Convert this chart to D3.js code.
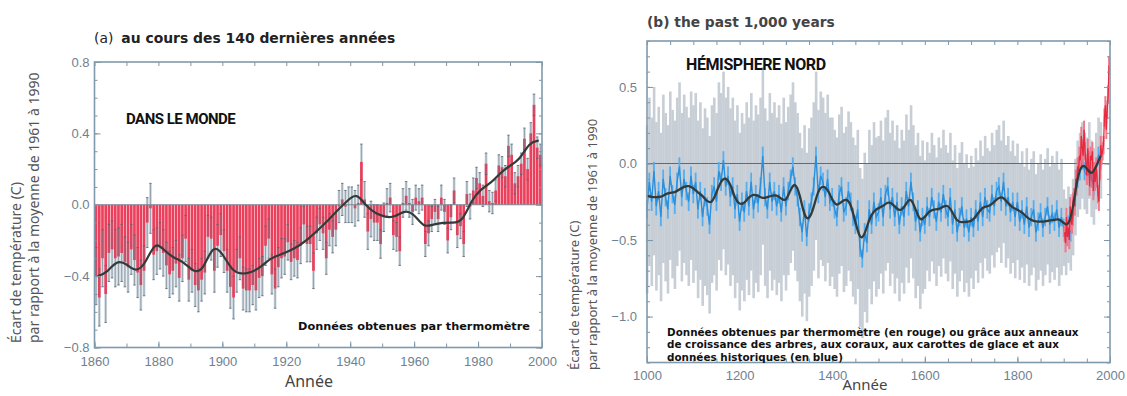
<!DOCTYPE html>
<html>
<head>
<meta charset="utf-8">
<script src="https://cdn.jsdelivr.net/npm/d3@7"></script>
<style>
  body { margin: 0; background: #fff; }
  svg { display: block; }
  .tick text { font-family: "Liberation Sans", Arial, sans-serif; font-size: 13px; fill: #6f8190; }
  .tick line { stroke: #7d96a8; }
</style>
</head>
<body>
<script>
// ---------- panel (a) : global, 1861-2000 ----------
var yearsA = d3.range(1861, 2001);
var tempA = [
  -0.40,-0.52,-0.30,-0.50,-0.27,-0.25,-0.30,-0.29,-0.27,-0.32,
  -0.35,-0.25,-0.31,-0.38,-0.45,-0.37,-0.10,-0.02,-0.28,-0.26,
  -0.23,-0.27,-0.34,-0.39,-0.37,-0.33,-0.41,-0.30,-0.19,-0.42,
  -0.37,-0.45,-0.48,-0.42,-0.38,-0.18,-0.19,-0.37,-0.23,-0.17,
  -0.26,-0.37,-0.46,-0.52,-0.37,-0.30,-0.47,-0.48,-0.48,-0.45,
  -0.48,-0.41,-0.40,-0.23,-0.19,-0.39,-0.47,-0.35,-0.30,-0.29,
  -0.21,-0.32,-0.30,-0.31,-0.23,-0.11,-0.22,-0.22,-0.37,-0.16,
  -0.11,-0.16,-0.30,-0.14,-0.18,-0.14,-0.01, 0.03,-0.01, 0.00,
   0.00,-0.02, 0.01, 0.24, 0.03,-0.15,-0.08,-0.10,-0.10,-0.22,
  -0.07, 0.01, 0.04,-0.17,-0.18,-0.26, 0.01, 0.05, 0.01,-0.04,
   0.04, 0.02, 0.04,-0.22,-0.16,-0.08,-0.04,-0.08, 0.04,-0.04,
  -0.20,-0.07, 0.08,-0.17,-0.12,-0.22, 0.06,-0.01, 0.08, 0.15,
   0.12, 0.05, 0.23, 0.02, 0.01, 0.08, 0.22, 0.21, 0.16, 0.33,
   0.28, 0.12, 0.16, 0.23, 0.37, 0.20, 0.40, 0.56, 0.32, 0.28
];
// 95% range half-width, one value per decade (1860s .. 1990s)
var errA = [0.16, 0.14, 0.13, 0.12, 0.12, 0.11, 0.10, 0.09, 0.10, 0.08, 0.07, 0.07, 0.06, 0.06];
var smoothYearsA = [1861,1864,1867,1870,1873,1876,1879,1882,1885,1888,1891,1894,1897,1900,1903,1906,
  1909,1912,1915,1918,1921,1924,1927,1930,1933,1936,1939,1942,1945,1948,1951,1954,1957,1960,1963,1966,
  1969,1972,1975,1978,1981,1984,1987,1990,1993,1996,1999];
var smoothA = [-0.40,-0.38,-0.31,-0.33,-0.38,-0.33,-0.20,-0.26,-0.30,-0.32,-0.38,-0.37,-0.22,-0.27,
  -0.37,-0.39,-0.38,-0.35,-0.30,-0.28,-0.26,-0.23,-0.19,-0.14,-0.09,-0.03,0.02,0.07,-0.01,-0.05,
  -0.07,-0.07,-0.03,-0.05,-0.13,-0.11,-0.10,-0.10,-0.10,0.03,0.09,0.12,0.18,0.22,0.25,0.35,0.36];
var yTicksA = [-0.8, -0.4, 0, 0.4, 0.8];
var xTicksA = [1860, 1880, 1900, 1920, 1940, 1960, 1980, 2000];

// ---------- panel (b) : northern hemisphere, 1000-1998 ----------
var yearsB = d3.range(1000, 1981, 5);
var proxyB = [
  -0.30,-0.12,-0.25,-0.05,-0.28,-0.18,-0.35,-0.10,-0.22,-0.30,-0.08,-0.20,-0.27,-0.12,-0.02,-0.22,-0.10,-0.18,-0.25,-0.08,
  -0.20,-0.12,-0.30,-0.18,-0.35,-0.22,-0.28,-0.40,-0.20,-0.15,-0.25,-0.05,-0.12, 0.02,-0.15,-0.08,-0.22,-0.15,-0.30,-0.20,
  -0.38,-0.25,-0.32,-0.18,-0.28,-0.12,-0.30,-0.20,-0.26,-0.15, 0.05,-0.22,-0.30,-0.12,-0.25,-0.18,-0.28,-0.20,-0.32,-0.15,
  -0.28,-0.18,-0.10,-0.02,-0.15,-0.22,-0.35,-0.45,-0.30,-0.48,-0.32,-0.25,-0.15, 0.05,-0.20,-0.08,-0.12,-0.22,-0.10,-0.25,
  -0.22,-0.30,-0.35,-0.20,-0.15,-0.32,-0.28,-0.18,-0.25,-0.35,-0.40,-0.30,-0.55,-0.62,-0.45,-0.52,-0.30,-0.40,-0.25,-0.35,
  -0.32,-0.22,-0.35,-0.20,-0.15,-0.30,-0.22,-0.35,-0.25,-0.40,-0.28,-0.35,-0.18,-0.28,-0.12,-0.25,-0.38,-0.30,-0.45,-0.35,
  -0.40,-0.28,-0.35,-0.22,-0.30,-0.38,-0.25,-0.32,-0.20,-0.30,-0.35,-0.22,-0.40,-0.30,-0.45,-0.35,-0.28,-0.42,-0.36,-0.45,
  -0.35,-0.42,-0.30,-0.38,-0.25,-0.35,-0.22,-0.30,-0.32,-0.20,-0.28,-0.18,-0.15,-0.25,-0.12,-0.28,-0.22,-0.32,-0.25,-0.35,
  -0.25,-0.38,-0.30,-0.40,-0.28,-0.42,-0.35,-0.30,-0.45,-0.38,-0.32,-0.42,-0.35,-0.28,-0.40,-0.33,-0.38,-0.30,-0.42,-0.35,
  -0.42,-0.48,-0.40,-0.45,-0.35,-0.22,-0.10,-0.05, 0.02,-0.05,-0.08, 0.02,-0.10,-0.15,-0.05, 0.05, 0.02
];
// uncertainty half-width, one value per century (1000s .. 1900s)
var errB = [0.55, 0.58, 0.58, 0.55, 0.52, 0.50, 0.42, 0.40, 0.38, 0.25];
var smoothYearsB = d3.range(1000, 1981, 10);
var smoothB = [
  -0.21,-0.22,-0.22,-0.22,-0.20,-0.19,-0.19,-0.17,-0.15,-0.145,
  -0.16,-0.19,-0.21,-0.25,-0.26,-0.19,-0.11,-0.09,-0.13,-0.23,
  -0.27,-0.26,-0.22,-0.20,-0.21,-0.23,-0.22,-0.21,-0.205,-0.23,
  -0.25,-0.17,-0.12,-0.20,-0.35,-0.37,-0.29,-0.17,-0.145,-0.165,
  -0.24,-0.28,-0.25,-0.23,-0.26,-0.38,-0.50,-0.47,-0.36,-0.31,
  -0.29,-0.28,-0.25,-0.26,-0.30,-0.31,-0.26,-0.22,-0.30,-0.38,
  -0.35,-0.31,-0.30,-0.30,-0.28,-0.27,-0.32,-0.38,-0.385,-0.38,
  -0.38,-0.35,-0.30,-0.28,-0.28,-0.25,-0.22,-0.22,-0.26,-0.29,
  -0.30,-0.32,-0.35,-0.37,-0.38,-0.38,-0.38,-0.37,-0.37,-0.36,
  -0.39,-0.41,-0.30,-0.08,0.00,-0.03,-0.08,-0.02,0.05
];
var thermoYearsB = d3.range(1902, 1999, 2);
var thermoB = [
  -0.45,-0.52,-0.35,-0.48,-0.42,-0.50,-0.28,-0.38,-0.40,-0.25,-0.22,-0.28,-0.10,-0.15,-0.02,-0.05,
   0.05, 0.02, 0.18, 0.10, 0.05, 0.22, 0.08, 0.00,-0.08, 0.10,-0.02,-0.15, 0.05, 0.02, 0.08,-0.18,
  -0.05,-0.12,-0.02,-0.10,-0.20,-0.25,-0.05, 0.12, 0.05, 0.08, 0.12, 0.30, 0.38, 0.22, 0.35, 0.45, 0.64
];
var yTicksB = [-1.0, -0.5, 0, 0.5];
var xTicksB = [1000, 1200, 1400, 1600, 1800, 2000];

var W = 1127, H = 396;
var svg = d3.select("body").append("svg").attr("width", W).attr("height", H);

var frameColor = "#7f9aad";
var fontText = "'Noto Sans', 'DejaVu Sans', sans-serif";
var fontWide = "'DejaVu Sans', Verdana, sans-serif";

// draws inward ticks on all four sides + frame
function drawFrame(g, x, y, o) {
  var x0 = x.range()[0], x1 = x.range()[1], y0 = y.range()[0], y1 = y.range()[1];
  g.append("g").attr("transform", "translate(" + x0 + ",0)")
    .call(d3.axisLeft(y).tickValues(o.yMinor).tickSize(-3).tickFormat(""));
  g.append("g").attr("transform", "translate(" + x0 + ",0)")
    .call(d3.axisLeft(y).tickValues(o.yMajor).tickSize(-6).tickPadding(o.yPad).tickFormat(d3.format(".1f")));
  g.append("g").attr("transform", "translate(" + x1 + ",0)")
    .call(d3.axisRight(y).tickValues(o.yMinor).tickSize(-3).tickFormat(""));
  g.append("g").attr("transform", "translate(" + x1 + ",0)")
    .call(d3.axisRight(y).tickValues(o.yMajor).tickSize(-6).tickFormat(""));
  g.append("g").attr("transform", "translate(0," + y0 + ")")
    .call(d3.axisBottom(x).tickValues(o.xMinor).tickSize(-4).tickFormat(""));
  g.append("g").attr("transform", "translate(0," + y0 + ")")
    .call(d3.axisBottom(x).tickValues(o.xMajor).tickSize(-6).tickPadding(o.xPad).tickFormat(d3.format("d")));
  g.append("g").attr("transform", "translate(0," + y1 + ")")
    .call(d3.axisTop(x).tickValues(o.xMinor).tickSize(-4).tickFormat(""));
  g.selectAll(".domain").remove();
  g.append("rect")
    .attr("x", x0).attr("y", y1).attr("width", x1 - x0).attr("height", y0 - y1)
    .attr("fill", "none").attr("stroke", frameColor).attr("stroke-width", 1.6);
}

function yTitle(g, cx, startY, size, lines) {
  lines.forEach(function(t, i) {
    g.append("text")
      .attr("transform", "translate(" + (cx + i * 18) + "," + startY + ") rotate(-90)")
      .attr("font-family", fontText).attr("font-size", size).attr("fill", "#555")
      .text(t);
  });
}

// ================= panel (a) =================
var xA = d3.scaleLinear().domain([1860, 2000]).range([94.5, 542]);
var yA = d3.scaleLinear().domain([-0.8, 0.8]).range([347.5, 62]);
var gA = svg.append("g");
var bw = (xA(1861) - xA(1860));

var dataA = yearsA.map(function(yr, i) {
  return {year: yr, v: tempA[i], e: errA[Math.floor((yr - 1860) / 10)] || errA[errA.length - 1]};
});

// uncertainty boxes
gA.selectAll(".err").data(dataA).enter().append("rect")
  .attr("x", function(d) { return xA(d.year - 0.5) - bw * 0.42; })
  .attr("width", bw * 0.84)
  .attr("y", function(d) { return yA(d.v + d.e); })
  .attr("height", function(d) { return yA(d.v - d.e) - yA(d.v + d.e); })
  .attr("fill", "#c9d4dc");

// red bars
gA.selectAll(".bar").data(dataA).enter().append("rect")
  .attr("x", function(d) { return xA(d.year - 0.5) - bw * 0.42; })
  .attr("width", bw * 0.84)
  .attr("y", function(d) { return yA(Math.max(0, d.v)); })
  .attr("height", function(d) { return Math.abs(yA(d.v) - yA(0)); })
  .attr("fill", "#eb3f5c");

// whiskers
gA.selectAll(".wh").data(dataA).enter().append("line")
  .attr("x1", function(d) { return xA(d.year - 0.5); })
  .attr("x2", function(d) { return xA(d.year - 0.5); })
  .attr("y1", function(d) { return yA(d.v + d.e); })
  .attr("y2", function(d) { return yA(d.v - d.e); })
  .attr("stroke", "#6b7a86").attr("stroke-width", 0.7).attr("opacity", 0.8);
gA.selectAll(".cap").data(dataA).enter().append("path")
  .attr("d", function(d) {
    var cx = xA(d.year - 0.5);
    return "M" + (cx - 1.2) + "," + yA(d.v + d.e) + "h2.4M" + (cx - 1.2) + "," + yA(d.v - d.e) + "h2.4";
  })
  .attr("stroke", "#56636e").attr("stroke-width", 0.8);

gA.append("line")
  .attr("x1", xA(1860)).attr("x2", xA(2000)).attr("y1", yA(0)).attr("y2", yA(0))
  .attr("stroke", "#7a8a96").attr("stroke-width", 1);

gA.append("path")
  .datum(smoothYearsA.map(function(yr, i) { return [yr, smoothA[i]]; }))
  .attr("d", d3.line().x(function(d) { return xA(d[0]); }).y(function(d) { return yA(d[1]); }).curve(d3.curveBasis))
  .attr("fill", "none").attr("stroke", "#333b3a").attr("stroke-width", 2.2);

drawFrame(gA, xA, yA, {
  yMajor: yTicksA, yMinor: d3.range(-8, 9).map(function(k) { return k / 10; }),
  xMajor: xTicksA, xMinor: d3.range(1860, 2001, 10), yPad: 5, xPad: 9
});

svg.append("text").attr("x", 94).attr("y", 43)
  .attr("font-family", fontWide).attr("font-size", 13.9).attr("fill", "#222")
  .call(function(t) {
    t.append("tspan").text("(a)");
    t.append("tspan").attr("dx", 8).attr("font-weight", "bold").text("au cours des 140 dernières années");
  });
svg.append("text").attr("x", 126).attr("y", 124)
  .attr("font-family", "Roboto, sans-serif").attr("font-weight", "bold").attr("font-size", 15)
  .attr("letter-spacing", -0.5).attr("fill", "#111").text("DANS LE MONDE");
svg.append("text").attr("x", 298).attr("y", 330)
  .attr("font-family", fontWide).attr("font-weight", "bold").attr("font-size", 11.3)
  .attr("fill", "#111").text("Données obtenues par thermomètre");
yTitle(svg, 21, 343, 14, ["Écart de température (C)", "par rapport à la moyenne de 1961 à 1990"]);
svg.append("text").attr("x", 309).attr("y", 387).attr("text-anchor", "middle")
  .attr("font-family", fontText).attr("font-size", 16).attr("fill", "#444").text("Année");

// ================= panel (b) =================
var xB = d3.scaleLinear().domain([1000, 2000]).range([647, 1110]);
var yB = d3.scaleLinear().domain([-1.3, 0.8]).range([362.5, 41]);
var gB = svg.append("g");
var dataB = yearsB.map(function(yr, i) {
  return {year: yr, v: proxyB[i], e: errB[Math.min(9, Math.floor((yr - 1000) / 100))]};
});
var gw = xB(1005) - xB(1000);

// grey uncertainty spikes
gB.selectAll(".unc").data(dataB).enter().append("rect")
  .attr("x", function(d) { return xB(d.year) - gw / 2; })
  .attr("width", gw + 0.3)
  .attr("y", function(d) { return yB(d.v + d.e); })
  .attr("height", function(d) { return yB(d.v - d.e) - yB(d.v + d.e); })
  .attr("fill", "#c7ced6");

gB.append("line")
  .attr("x1", xB(1000)).attr("x2", xB(2000)).attr("y1", yB(0)).attr("y2", yB(0))
  .attr("stroke", "#5f6b72").attr("stroke-width", 1.2);

// blue proxy reconstruction
gB.selectAll(".px").data(dataB).enter().append("rect")
  .attr("x", function(d) { return xB(d.year) - 0.9; })
  .attr("width", 1.8)
  .attr("y", function(d) { return yB(d.v + 0.06); })
  .attr("height", function(d) { return yB(d.v - 0.06) - yB(d.v + 0.06); })
  .attr("fill", "#55aef0");
gB.append("path")
  .datum(dataB)
  .attr("d", d3.line().x(function(d) { return xB(d.year); }).y(function(d) { return yB(d.v); }))
  .attr("fill", "none").attr("stroke", "#2a8fdc").attr("stroke-width", 1.4);

// red thermometer record
gB.selectAll(".th").data(thermoYearsB.map(function(yr, i) { return [yr, thermoB[i]]; })).enter().append("rect")
  .attr("x", function(d) { return xB(d[0]) - 1; })
  .attr("width", 2)
  .attr("y", function(d) { return yB(d[1] + 0.06); })
  .attr("height", function(d) { return yB(d[1] - 0.06) - yB(d[1] + 0.06); })
  .attr("fill", "#f07a8a");
gB.append("path")
  .datum(thermoYearsB.map(function(yr, i) { return [yr, thermoB[i]]; }))
  .attr("d", d3.line().x(function(d) { return xB(d[0]); }).y(function(d) { return yB(d[1]); }))
  .attr("fill", "none").attr("stroke", "#e8283f").attr("stroke-width", 1.3);

gB.append("path")
  .datum(smoothYearsB.map(function(yr, i) { return [yr, smoothB[i]]; }))
  .attr("d", d3.line().x(function(d) { return xB(d[0]); }).y(function(d) { return yB(d[1]); }).curve(d3.curveBasis))
  .attr("fill", "none").attr("stroke", "#333b3a").attr("stroke-width", 2.3);

drawFrame(gB, xB, yB, {
  yMajor: yTicksB, yMinor: d3.range(-13, 9).map(function(k) { return k / 10; }),
  xMajor: xTicksB, xMinor: d3.range(1000, 2001, 50), yPad: 10, xPad: 8
});

svg.append("text").attr("x", 647).attr("y", 27)
  .attr("font-family", fontWide).attr("font-weight", "bold").attr("font-size", 13.8).attr("fill", "#444")
  .text("(b) the past 1,000 years");
svg.append("text").attr("x", 686).attr("y", 70)
  .attr("font-family", "Roboto, sans-serif").attr("font-weight", "bold").attr("font-size", 16)
  .attr("letter-spacing", -0.4).attr("fill", "#111").text("HÉMISPHERE NORD");
var noteB = ["Données obtenues par thermomètre (en rouge) ou grâce aux anneaux",
             "de croissance des arbres, aux coraux, aux carottes de glace et aux",
             "données historiques (en blue)"];
noteB.forEach(function(t, i) {
  svg.append("text").attr("x", 667).attr("y", 335.5 + i * 12.8)
    .attr("font-family", fontWide).attr("font-weight", "bold").attr("font-size", 10.4)
    .attr("fill", "#111").text(t);
});
yTitle(svg, 579, 370, 13, ["Écart de température (C)", "par rapport à la moyenne de 1961 à 1990"]);
svg.append("text").attr("x", 865).attr("y", 390).attr("text-anchor", "middle")
  .attr("font-family", fontText).attr("font-size", 15).attr("fill", "#444").text("Année");
</script>
</body>
</html>
